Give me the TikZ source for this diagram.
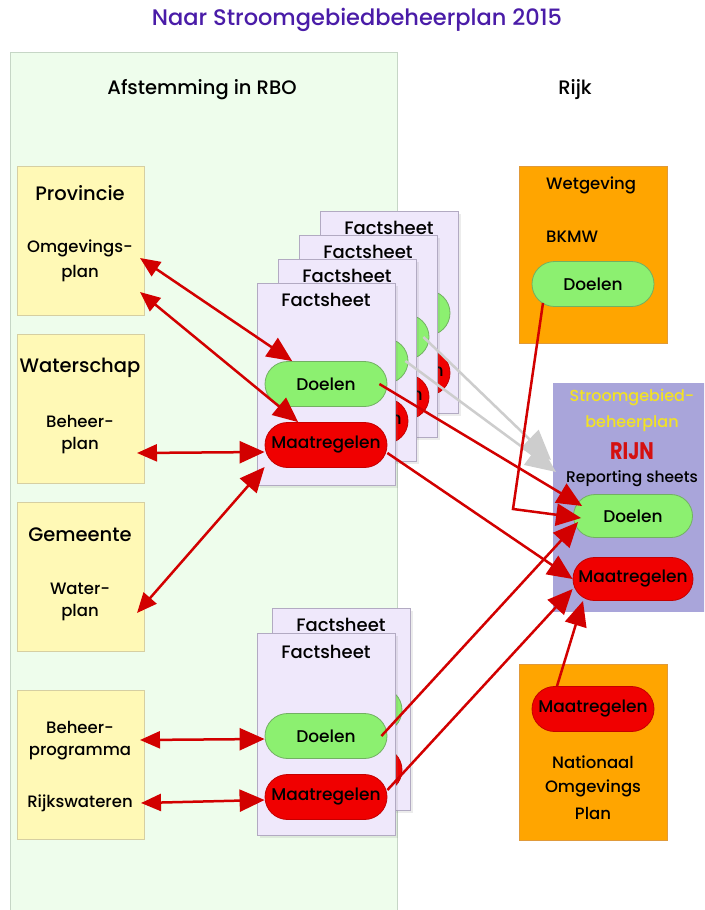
\documentclass[tikz,border=0pt]{standalone}
\usepackage{fontspec}
\setmainfont{Poppins}[UprightFont={* Medium},BoldFont={* Bold}]
\usetikzlibrary{arrows.meta,shapes.misc,shadows}
\definecolor{titlepurple}{HTML}{4A1CA8}
\definecolor{panelfill}{HTML}{EEFDEC}
\definecolor{panelborder}{HTML}{C6D6C6}
\definecolor{yellowfill}{HTML}{FFF9B6}
\definecolor{yellowborder}{HTML}{D6CFA2}
\definecolor{sheetfill}{HTML}{EFE8FB}
\definecolor{sheetborder}{HTML}{B2AAC2}
\definecolor{doelfill}{HTML}{8CF070}
\definecolor{doelborder}{HTML}{72B062}
\definecolor{maatfill}{HTML}{F00000}
\definecolor{maatborder}{HTML}{C40000}
\definecolor{rijkfill}{HTML}{FFA500}
\definecolor{rijkborder}{HTML}{E09A3A}
\definecolor{rijnfill}{HTML}{A9A5DA}
\definecolor{rijnyellow}{HTML}{F2E224}
\definecolor{rijnred}{HTML}{D41010}
\definecolor{linkred}{HTML}{D20000}
\definecolor{ghostgrey}{HTML}{CDCDCD}
\begin{document}
\begin{tikzpicture}[x=1pt,y=-1pt]
	\tikzstyle{txt}=[inner sep=0pt,font=\fontsize{16.5}{19}\selectfont]
	\tikzstyle{headtxt}=[inner sep=0pt,font=\fontsize{19.5}{23}\selectfont]
	\tikzstyle{nametxt}=[inner sep=0pt,font=\fontsize{19.5}{23}\selectfont]
	\tikzstyle{sheettxt}=[inner sep=0pt,font=\fontsize{18}{21}\selectfont]
	\tikzstyle{panel}=[draw=panelborder,fill=panelfill,line width=1pt,anchor=north west,minimum width=387pt,minimum height=880pt]
	\tikzstyle{orgbox}=[draw=yellowborder,fill=yellowfill,line width=1pt,anchor=north west,minimum width=127pt,minimum height=149pt]
	\tikzstyle{rijkbox}=[draw=rijkborder,fill=rijkfill,line width=0.8pt,anchor=north west,minimum width=148pt]
	\tikzstyle{sheet}=[draw=sheetborder,fill=sheetfill,line width=0.8pt,anchor=north west,minimum width=138pt,minimum height=202pt,drop shadow={opacity=0.15,shadow xshift=3pt,shadow yshift=-3pt}]
	\tikzstyle{doel}=[rounded rectangle,draw=doelborder,fill=doelfill,line width=0.8pt,minimum width=126pt,minimum height=45pt,inner xsep=2pt,font=\fontsize{17}{20}\selectfont]
	\tikzstyle{maat}=[rounded rectangle,draw=maatborder,fill=maatfill,line width=0.8pt,minimum width=126pt,minimum height=45pt,inner xsep=2pt,font=\fontsize{17}{20}\selectfont]
	\tikzstyle{link}=[draw=linkred,line width=2.5pt,-{Triangle[length=25pt,width=22pt]}]
	\tikzstyle{twoway}=[draw=linkred,line width=2.5pt,{Triangle[length=20pt,width=17pt]}-{Triangle[length=25pt,width=22pt]}]
	\tikzstyle{ghost}=[draw=ghostgrey,line width=2.5pt,-{Triangle[length=30pt,width=26pt]}]
	\clip (0,0) rectangle (704,910);
	\fill[white] (0,0) rectangle (704,910);
	\node[inner sep=0pt,text=titlepurple,font=\fontsize{22.5}{26}\selectfont] (title) at (357,20) {Naar Stroomgebiedbeheerplan 2015};
	\node[panel] (rbo) at (10,52) {};
	\node[headtxt] (rbohead) at (202,90) {Afstemming in RBO};
	\node[headtxt] (rijkhead) at (575,90) {Rijk};
	\node[orgbox] (prov) at (17,166) {};
	\node[orgbox] (wsch) at (17,334) {};
	\node[orgbox] (gem) at (17,502) {};
	\node[orgbox] (rws) at (17,690) {};
	\node[nametxt] (provname) at (80,193) {Provincie};
	\node[txt] (provplan1) at (80,248) {Omgevings-};
	\node[txt] (provplan2) at (80,274) {plan};
	\node[nametxt] (wschname) at (80,368) {Waterschap};
	\node[txt] (wschplan1) at (80,421) {Beheer-};
	\node[txt] (wschplan2) at (80,446) {plan};
	\node[nametxt] (gemname) at (80,535) {Gemeente};
	\node[txt] (gemplan1) at (80,589) {Water-};
	\node[txt] (gemplan2) at (80,613) {plan};
	\node[txt] (rwsplan1) at (80,727) {Beheer-};
	\node[txt] (rwsplan2) at (80,753) {programma};
	\node[txt] (rwsname) at (80,803) {Rijkswateren};
	\node[sheet] (fsD) at (320,211) {};
	\node[sheettxt] at (389,228) {Factsheet};
	\node[doel] (dlD) at (389,313) {Doelen};
	\node[maat] (mrD) at (389,373) {Maatregelen};
	\node[sheet] (fsC) at (299,235) {};
	\node[sheettxt] at (368,252) {Factsheet};
	\node[doel] (dlC) at (368,337) {Doelen};
	\node[maat] (mrC) at (368,397) {Maatregelen};
	\node[sheet] (fsB) at (278,259) {};
	\node[sheettxt] at (347,276) {Factsheet};
	\node[doel] (dlB) at (347,361) {Doelen};
	\node[maat] (mrB) at (347,421) {Maatregelen};
	\node[sheet] (fsA) at (257,283) {};
	\node[sheettxt] at (326,300) {Factsheet};
	\node[doel] (dlA) at (326,384) {Doelen};
	\node[maat] (mrA) at (326,445) {Maatregelen};
	\node[sheet] (fsF) at (272,608) {};
	\node[sheettxt] at (341,625) {Factsheet};
	\node[doel] (dlF) at (341,710) {Doelen};
	\node[maat] (mrF) at (341,770) {Maatregelen};
	\node[sheet] (fsE) at (257,633) {};
	\node[sheettxt] at (326,652) {Factsheet};
	\node[doel] (dlE) at (326,736) {Doelen};
	\node[maat] (mrE) at (326,797) {Maatregelen};
	\node[rijkbox,minimum height=177pt] (wet) at (519,166) {};
	\node[txt,anchor=west] (wetname) at (546,185) {Wetgeving};
	\node[txt,anchor=west] (bkmw) at (546,237) {BKMW};
	\node[doel] (wetdl) at (593,284) {Doelen};
	\node[fill=rijnfill,anchor=north west,minimum width=170pt,minimum height=229pt] (rijn) at (553,383) {};
	\node[inner sep=0pt,text=rijnyellow,font=\fontsize{16}{19}\selectfont] (rijnname1) at (632,398) {Stroomgebied-};
	\node[inner sep=0pt,text=rijnyellow,font=\fontsize{16}{19}\selectfont] (rijnname2) at (632,424) {beheerplan};
	\node[inner sep=0pt,text=rijnred,font=\fontsize{24}{27}\selectfont\bfseries] (rijnriver) at (632,451) {\scalebox{0.8}[1]{RIJN}};
	\node[inner sep=0pt,font=\fontsize{15.5}{18}\selectfont] (repsheets) at (632,479) {Reporting sheets};
	\node[doel,minimum width=123pt,minimum height=43pt] (rdl) at (633,516) {Doelen};
	\node[maat,minimum width=124pt,minimum height=43pt] (rmr) at (633,579) {Maatregelen};
	\node[rijkbox,minimum height=176pt] (nop) at (519,664) {};
	\node[maat] (nopmr) at (593,709) {Maatregelen};
	\node[txt] (nopname1) at (593,762) {Nationaal};
	\node[txt] (nopname2) at (593,788) {Omgevings};
	\node[txt] (nopname3) at (593,813) {Plan};
	\coordinate (pv1) at (140,258);
	\coordinate (pv2) at (140,292);
	\coordinate (ws1) at (137,453);
	\coordinate (gm1) at (137,613);
	\coordinate (bp1) at (140,740);
	\coordinate (rw1) at (141,803);
	\coordinate (rep1) at (551,460);
	\coordinate (rep2) at (556,472);
	\coordinate (wetbend) at (513,509);
	\draw[ghost] ([xshift=-6pt]dlC.east) -- (rep1);
	\draw[ghost] ([xshift=-3pt]dlB.east) -- (rep2);
	\draw[twoway] (pv1) -- (dlA);
	\draw[twoway] (pv2) -- (mrA);
	\draw[twoway] (ws1) -- ([yshift=-7pt]mrA.west);
	\draw[twoway] (gm1) -- ([yshift=-22pt]mrA.west);
	\draw[twoway] (bp1) -- ([yshift=-3pt]dlE.west);
	\draw[twoway] (rw1) -- ([yshift=-3pt]mrE.west);
	\draw[link] ([xshift=-8pt]dlA.east) -- ([shift={(9pt,10pt)}]rdl.west);
	\draw[link] ([yshift=-8pt]mrA.east) -- (rmr.west);
	\draw[link] ([shift={(-50pt,4pt)}]wetdl.south) -- (wetbend) -- ([shift={(8pt,-2pt)}]rdl.west);
	\draw[link] ([xshift=-6pt]dlE.east) -- ([shift={(5pt,-6pt)}]rdl.west);
	\draw[link] ([yshift=7pt]mrE.east) -- ([yshift=-10pt]rmr.west);
	\draw[link] ([xshift=-36pt]nopmr.north) -- ([xshift=-50pt]rmr.south);
\end{tikzpicture}
\end{document}
